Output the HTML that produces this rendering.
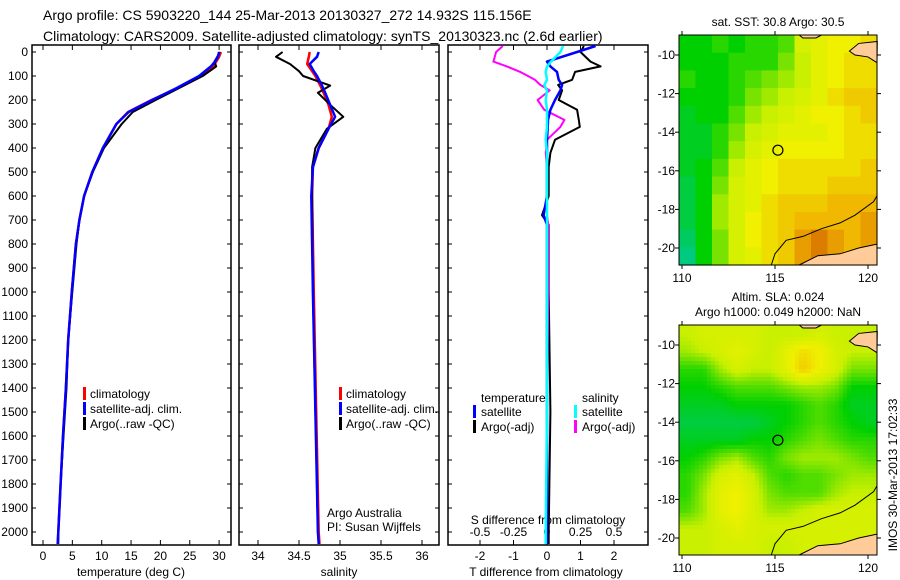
<!DOCTYPE html>
<html><head><meta charset="utf-8">
<style>
body{margin:0;background:#fff;}
svg{display:block;font-family:"Liberation Sans",sans-serif;}
text{fill:#000;}
</style></head>
<body>
<svg id="fig" width="900" height="580" viewBox="0 0 900 580" xmlns="http://www.w3.org/2000/svg">
<text x="43" y="20" font-size="14">Argo profile: CS 5903220_144 25-Mar-2013 20130327_272 14.932S 115.156E</text>
<text x="43" y="41" font-size="14">Climatology: CARS2009. Satellite-adjusted climatology: synTS_20130323.nc (2.6d earlier)</text>
<g id="g"></g>
</svg>
<script>
// ---- data ----
const tDepth=[0,20,40,60,100,150,200,250,300,400,500,600,700,800,1000,1200,1400,1600,1800,2000,2050];
const tClim=[30.3,30.0,29.5,29.0,27.0,23.0,18.5,14.5,12.5,10.2,8.4,7.0,6.2,5.6,4.9,4.3,3.9,3.4,3.0,2.6,2.5];
const tSat=[30.0,29.8,29.3,28.6,26.6,22.8,18.6,14.6,12.5,10.2,8.4,7.0,6.2,5.6,4.9,4.3,3.9,3.4,3.0,2.6,2.5];
const tArgo=[30.1,29.7,29.2,29.5,27.2,23.2,19.2,15.3,13.4,10.4,8.5,7.0,6.2,5.7,5.0,4.3,4.0,3.5,3.0,2.6,2.6];
const sDepth=[0,20,50,80,100,140,170,220,270,320,400,480,600,1000,1500,2000,2050];
const sClim=[34.63,34.62,34.60,34.66,34.70,34.76,34.80,34.86,34.90,34.86,34.74,34.67,34.66,34.68,34.71,34.74,34.75];
const sSat=[34.74,34.72,34.63,34.68,34.72,34.78,34.82,34.88,34.94,34.86,34.74,34.67,34.65,34.67,34.70,34.73,34.74];
const sArgo=[34.30,34.22,34.39,34.50,34.55,34.88,34.73,34.88,35.04,34.84,34.70,34.66,34.66,34.67,34.70,34.73,34.74];
const dDepth=[-25,0,40,60,83,116,137,160,200,241,283,312,366,420,479,600,680,720,1000,1500,2000,2050];
const dTsat=[1.45,0.9,0.0,0.1,0.3,0.35,0.45,0.4,0.24,0.1,0.03,0.02,0.0,0.0,0.0,0.0,-0.1,0.0,0.0,0.0,0.0,0.0];
const dTargo=[1.1,1.0,1.3,1.6,0.84,0.75,0.33,0.45,0.35,0.9,0.95,0.98,0.24,0.1,0.05,0.05,-0.15,0.05,0.05,0.1,0.05,0.05];
const dSargo=[-0.33,-0.38,-0.4,-0.3,-0.2,-0.09,-0.05,0.02,-0.07,-0.02,0.13,0.1,0.0,-0.01,0.0,0.0,0.0,0.01,0.01,0.0,0.0,0.0];
const dSsat=[0.12,0.1,0.03,0.0,-0.01,0.0,-0.02,0.0,-0.01,0.0,0.0,0.0,-0.01,0.0,0.0,0.0,0.0,0.0,0.0,0.0,-0.01,-0.01];
const depthTicks=[0,100,200,300,400,500,600,700,800,900,1000,1100,1200,1300,1400,1500,1600,1700,1800,1900,2000];
const tTicks=[0,5,10,15,20,25,30];
const sTicks=[34,34.5,35,35.5,36];
const dTTicks=[-2,-1,0,1,2];
const dSTicks=[-0.5,-0.25,0,0.25,0.5];
const dSTickLabels=["-0.5","-0.25","0","0.25","0.5"];
const lonTicks=[110,115,120];
const latTicks=[-10,-12,-14,-16,-18,-20];
const sstGrid=[
[.25,.25,.3,.25,.3,.3,.35,.55,.6,.65,.65,.7],
[.25,.25,.25,.3,.3,.3,.4,.5,.6,.65,.7,.7],
[.3,.25,.25,.3,.35,.4,.45,.5,.6,.65,.7,.7],
[.25,.25,.25,.3,.4,.45,.5,.55,.6,.7,.75,.75],
[.2,.25,.25,.35,.45,.5,.55,.6,.65,.65,.7,.75],
[.2,.2,.3,.4,.5,.55,.6,.6,.6,.65,.7,.7],
[.2,.2,.3,.45,.55,.6,.65,.65,.65,.65,.7,.7],
[.2,.25,.35,.5,.6,.65,.7,.7,.7,.7,.7,.75],
[.15,.25,.4,.55,.6,.65,.7,.7,.7,.75,.75,.75],
[.15,.25,.45,.55,.6,.7,.75,.75,.75,.8,.8,.8],
[.15,.25,.45,.55,.65,.7,.75,.8,.8,.8,.8,.85],
[.1,.25,.4,.55,.65,.7,.75,.85,.9,.85,.8,.85],
[.05,.25,.4,.55,.6,.7,.75,.85,.9,.85,.8,.85]];
const slaGrid=[
[.5,.55,.55,.55,.55,.5,.5,.5,.55,.5,.5,.5],
[.45,.5,.55,.6,.55,.5,.6,.7,.65,.55,.5,.5],
[.3,.3,.45,.55,.5,.5,.6,.75,.65,.55,.4,.4],
[.25,.25,.3,.35,.35,.35,.4,.45,.45,.4,.25,.25],
[.2,.2,.2,.25,.25,.25,.25,.3,.35,.3,.2,.2],
[.15,.15,.15,.15,.15,.2,.25,.3,.35,.3,.25,.2],
[.2,.2,.2,.2,.25,.25,.3,.35,.4,.35,.3,.3],
[.25,.3,.4,.45,.35,.3,.4,.45,.45,.45,.4,.35],
[.3,.4,.55,.6,.5,.35,.3,.35,.35,.4,.45,.45],
[.3,.45,.6,.65,.55,.4,.35,.35,.35,.45,.5,.5],
[.35,.45,.6,.65,.55,.45,.45,.5,.55,.55,.55,.55],
[.5,.5,.55,.6,.55,.55,.55,.55,.55,.55,.55,.55],
[.5,.5,.55,.55,.55,.5,.5,.55,.55,.55,.55,.55]];

// ---- helpers ----
const NS="http://www.w3.org/2000/svg";
const G=document.getElementById('g');
function mk(tag,attrs,parent){const e=document.createElementNS(NS,tag);for(const k in attrs)e.setAttribute(k,attrs[k]);(parent||G).appendChild(e);return e;}
function txt(x,y,s,anchor,size,name){const t=mk('text',{x:x,y:y,'font-size':size||12,'text-anchor':anchor||'start'});t.textContent=s;


return t;}
const yD=d=>52+d*0.24;
const yTop=45,yBot=545;
function box(x0,x1,name){const r=mk('rect',{x:x0,y:yTop,width:x1-x0,height:yBot-yTop,fill:'none',stroke:'#000','stroke-width':1.5});


depthTicks.forEach(d=>{mk('line',{x1:x0,x2:x0+4,y1:yD(d),y2:yD(d),stroke:'#000'});mk('line',{x1:x1,x2:x1-4,y1:yD(d),y2:yD(d),stroke:'#000'});});}
function line(xs,ds,xf,color,name,w){const pts=xs.map((v,i)=>xf(v).toFixed(1)+','+yD(ds[i]).toFixed(1)).join(' ');
const p=mk('polyline',{points:pts,fill:'none',stroke:color,'stroke-width':w||2.5,'stroke-linejoin':'round'});

}
function legBar(x,y,color){mk('rect',{x:x,y:y-11,width:3,height:13,fill:color});}

// ---- panel 1: temperature ----
const xT=v=>43+v*5.87;
box(32,231,'temperature-panel');
depthTicks.forEach(d=>txt(28,yD(d)+4,String(d),'end',12,'depth-tick-label'));
tTicks.forEach(v=>{mk('line',{x1:xT(v),x2:xT(v),y1:yBot,y2:yBot-5,stroke:'#000'});mk('line',{x1:xT(v),x2:xT(v),y1:yTop,y2:yTop+5,stroke:'#000'});txt(xT(v),560,String(v),'middle',12,'temp-tick-label');});
txt(131,576,'temperature (deg C)','middle',12,'temperature-axis-title');
line(tClim,tDepth,xT,'#f00','temp-climatology-line');
line(tArgo,tDepth,xT,'#000','temp-argo-line',2);
line(tSat,tDepth,xT,'#00f','temp-satellite-line');
[['#f00','climatology'],['#00f','satellite-adj. clim.'],['#000','Argo(..raw -QC)']].forEach((l,i)=>{legBar(83,398+i*15,l[0]);txt(90,398+i*15,l[1],'start',12,'temp-legend-entry');});

// ---- panel 2: salinity ----
const xS=v=>258+(v-34)*82;
box(239,439,'salinity-panel');
sTicks.forEach(v=>{mk('line',{x1:xS(v),x2:xS(v),y1:yBot,y2:yBot-5,stroke:'#000'});mk('line',{x1:xS(v),x2:xS(v),y1:yTop,y2:yTop+5,stroke:'#000'});txt(xS(v),560,String(v),'middle',12,'salinity-tick-label');});
txt(339,576,'salinity','middle',12,'salinity-axis-title');
line(sClim,sDepth,xS,'#f00','sal-climatology-line');
line(sArgo,sDepth,xS,'#000','sal-argo-line',2);
line(sSat,sDepth,xS,'#00f','sal-satellite-line');
[['#f00','climatology'],['#00f','satellite-adj. clim.'],['#000','Argo(..raw -QC)']].forEach((l,i)=>{legBar(339,398+i*15,l[0]);txt(346,398+i*15,l[1],'start',12,'sal-legend-entry');});
txt(327,517,'Argo Australia','start',12,'credit-argo-australia');
txt(327,531,'PI: Susan Wijffels','start',12,'credit-pi');

// ---- panel 3: differences ----
const xDT=v=>547+v*33.5, xDS=v=>547+v*134;
box(448,648,'difference-panel');
dTTicks.forEach(v=>{mk('line',{x1:xDT(v),x2:xDT(v),y1:yBot,y2:yBot-5,stroke:'#000'});mk('line',{x1:xDT(v),x2:xDT(v),y1:yTop,y2:yTop+5,stroke:'#000'});txt(xDT(v),560,String(v),'middle',12,'tdiff-tick-label');});
dSTicks.forEach((v,i)=>{mk('line',{x1:xDS(v),x2:xDS(v),y1:yBot,y2:yBot-4,stroke:'#000'});txt(xDS(v),536,dSTickLabels[i],'middle',12,'sdiff-tick-label');});
txt(548,524,'S difference from climatology','middle',12,'sdiff-axis-title');
txt(546,576,'T difference from climatology','middle',12,'tdiff-axis-title');
line(dTargo,dDepth,xDT,'#000','tdiff-argo-line',2);
line(dSargo,dDepth,xDS,'#f0f','sdiff-argo-line',2);
line(dTsat,dDepth,xDT,'#00f','tdiff-satellite-line');
line(dSsat,dDepth,xDS,'#0ff','sdiff-satellite-line');
txt(481,402,'temperature','start',12,'legend-temperature-header');
txt(582,402,'salinity','start',12,'legend-salinity-header');
[['#00f','satellite'],['#000','Argo(-adj)']].forEach((l,i)=>{legBar(473,416+i*15,l[0]);txt(481,416+i*15,l[1],'start',12,'tdiff-legend-entry');});
[['#0ff','satellite'],['#f0f','Argo(-adj)']].forEach((l,i)=>{legBar(574,416+i*15,l[0]);txt(582,416+i*15,l[1],'start',12,'sdiff-legend-entry');});

// ---- maps ----
const stops=[[0,[0,200,160]],[0.25,[0,208,0]],[0.5,[200,240,0]],[0.65,[240,240,0]],[0.82,[240,176,0]],[1,[192,64,0]]];
function cmap(v){for(let i=1;i<stops.length;i++){if(v<=stops[i][0]){const a=stops[i-1],b=stops[i],t=(v-a[0])/(b[0]-a[0]);return 'rgb('+a[1].map((c,k)=>Math.round(c+(b[1][k]-c)*t)).join(',')+')';}}return 'rgb(192,64,0)';}
function sample(grid,fy,fx){const nr=grid.length,nc=grid[0].length;
  fy=Math.max(0,Math.min(nr-1,fy));fx=Math.max(0,Math.min(nc-1,fx));
  const r0=Math.floor(fy),c0=Math.floor(fx),r1=Math.min(nr-1,r0+1),c1=Math.min(nc-1,c0+1),ty=fy-r0,tx=fx-c0;
  const a=grid[r0][c0]*(1-tx)+grid[r0][c1]*tx,b=grid[r1][c0]*(1-tx)+grid[r1][c1]*tx;return a*(1-ty)+b*ty;}
function map(y0,grid,name,titles,smooth){
  const x0=679,x1=877,y1=y0+230;
  const lonX=v=>682+(v-110)*18.6, latY=v=>y0+20+(-10-v)*19.3;
  const g=mk('g',{});
  
  
  const nr=grid.length,nc=grid[0].length,cw=(x1-x0)/nc,ch=(y1-y0)/nr;
  if(!smooth){
    grid.forEach((row,r)=>row.forEach((v,c)=>mk('rect',{x:x0+c*cw,y:y0+r*ch,width:cw+0.6,height:ch+0.6,fill:cmap(v)},g)));
  } else {
    const s=4;
    for(let y=y0;y<y1;y+=s)for(let x=x0;x<x1;x+=s){
      const v=sample(grid,(y+s/2-y0)/ch-0.5,(x+s/2-x0)/cw-0.5);
      mk('rect',{x:x,y:y,width:Math.min(s,x1-x)+0.5,height:Math.min(s,y1-y)+0.5,fill:cmap(v)},g);
    }
  }
  mk('path',{d:`M${lonX(119.0)},${latY(-9.8)} L${lonX(119.5)},${latY(-9.4)} L${lonX(120.5)},${latY(-9.3)} L${x1},${latY(-10.4)} L${lonX(120.0)},${latY(-10.1)} L${lonX(119.3)},${latY(-10.0)} Z`,fill:'#ffcc99',stroke:'#000','stroke-width':1},g);
  mk('path',{d:`M${lonX(116.3)},${y0} L${lonX(116.5)},${y0+3} L${lonX(117.2)},${y0+3} L${lonX(117.5)},${y0} Z`,fill:'#ffcc99',stroke:'#000','stroke-width':1},g);
  mk('path',{d:`M${lonX(116.3)},${y1} L${lonX(117.3)},${latY(-20.4)} L${lonX(118.5)},${latY(-20.3)} L${lonX(119.5)},${latY(-20.0)} L${x1},${latY(-19.8)} L${x1},${y1} Z`,fill:'#ffcc99',stroke:'#000','stroke-width':1},g);
  mk('path',{d:`M${lonX(114.8)},${y1} L${lonX(115.0)},${latY(-20.3)} L${lonX(115.6)},${latY(-19.6)} L${lonX(116.5)},${latY(-19.4)} L${lonX(117.5)},${latY(-19.0)} L${lonX(118.5)},${latY(-18.7)} L${lonX(119.3)},${latY(-18.3)} L${lonX(120.3)},${latY(-17.6)} L${x1},${latY(-17.3)}`,fill:'none',stroke:'#000','stroke-width':1},g);
  const c=mk('circle',{cx:lonX(115.156),cy:latY(-14.932),r:5,fill:'none',stroke:'#000','stroke-width':1.2},g);
  
  
  mk('rect',{x:x0,y:y0,width:x1-x0,height:y1-y0,fill:'none',stroke:'#000','stroke-width':1},g);
  latTicks.forEach(v=>{mk('line',{x1:x0-4,x2:x0,y1:latY(v),y2:latY(v),stroke:'#000'});mk('line',{x1:x1,x2:x1+4,y1:latY(v),y2:latY(v),stroke:'#000'});txt(675,latY(v)+4,String(v),'end',12,'lat-tick-label');});
  lonTicks.forEach(v=>{mk('line',{x1:lonX(v),x2:lonX(v),y1:y0-4,y2:y0,stroke:'#000'});mk('line',{x1:lonX(v),x2:lonX(v),y1:y1,y2:y1+4,stroke:'#000'});txt(lonX(v),y1+17,String(v),'middle',12,'lon-tick-label');});
  titles.forEach((s,i)=>txt(778,y0-(titles.length-1-i)*15-9,s,'middle',12,'map-title'));
}
map(35,sstGrid,'sst-map',['sat. SST: 30.8 Argo: 30.5'],false);
map(325,slaGrid,'sla-map',['Altim. SLA: 0.024','Argo h1000: 0.049 h2000: NaN'],true);
const r=txt(0,0,'IMOS 30-Mar-2013 17:02:33','middle',12,'imos-timestamp');
r.setAttribute('transform','translate(897,475) rotate(-90)');
</script>
</body></html>
